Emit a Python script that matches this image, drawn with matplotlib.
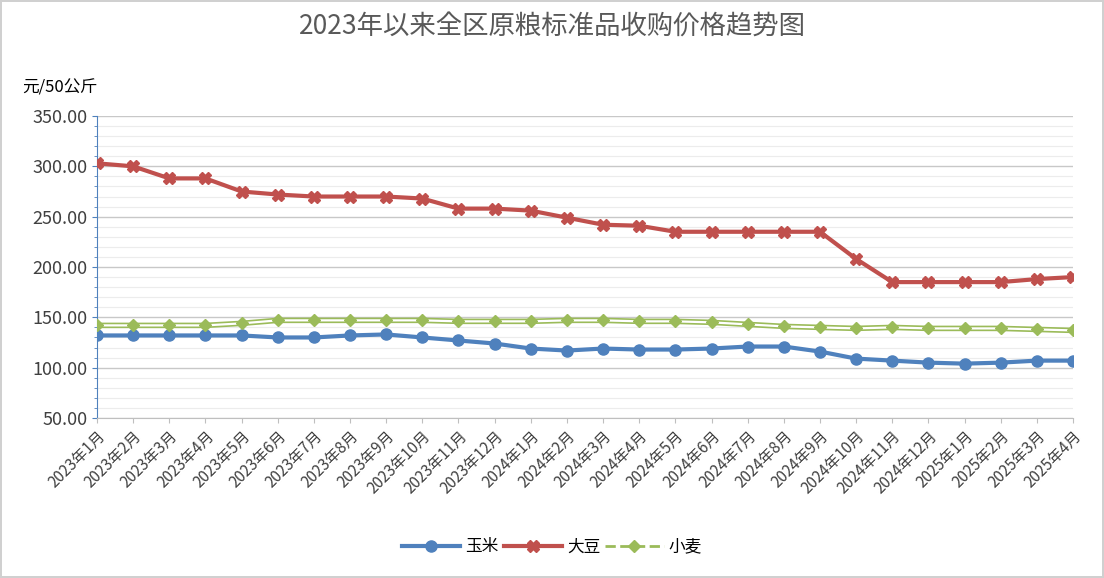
import numpy as np
import matplotlib.pyplot as plt
from matplotlib import font_manager
from matplotlib.ticker import MultipleLocator

# register a CJK font explicitly
cjk = 'DejaVu Sans'
for f in font_manager.findSystemFonts():
    if 'CJK' in f and ('SC' in f or 'Sans' in f):
        try:
            font_manager.fontManager.addfont(f)
            cjk = font_manager.FontProperties(fname=f).get_name()
            break
        except Exception:
            pass
plt.rcParams['font.family'] = [cjk, 'DejaVu Sans']

months = [f"{y}年{m}月" for y, m in
          [(2023, i) for i in range(1, 13)] + [(2024, i) for i in range(1, 13)] + [(2025, i) for i in range(1, 5)]]

corn = [132, 132, 132, 132, 132, 130, 130, 132, 133, 130, 127, 124,
        119, 117, 119, 118, 118, 119, 121, 121, 116, 109, 107, 105,
        104, 105, 107, 107]
soy = [303, 300, 288, 288, 275, 272, 270, 270, 270, 268, 258, 258,
       256, 249, 242, 241, 235, 235, 235, 235, 235, 208, 185, 185,
       185, 185, 188, 190]
wheat = [142, 142, 142, 142, 144, 147, 147, 147, 147, 147, 146, 146,
         146, 147, 147, 146, 146, 145, 143, 141, 140, 139, 140, 139,
         139, 139, 138, 137]

fig = plt.figure(figsize=(11.04, 5.78), dpi=100)
fig.patch.set_edgecolor('#d0d0d0')
fig.patch.set_linewidth(1.5)
ax = fig.add_axes([97/1104, 1-418/578, (1073-97)/1104, (418-116)/578])

x = np.arange(len(months))
ax.plot(x, corn, color='#4f81bd', lw=3, marker='o', ms=8, label='玉米', zorder=4)
ax.plot(x, soy, color='#c0504d', lw=3, marker='X', ms=9, label='大豆', zorder=4)
ax.plot(x, wheat, color='#9bbb59', lw=4, zorder=3)
ax.plot(x, wheat, color='white', lw=1.6, zorder=3)
ax.plot(x, wheat, color='#9bbb59', lw=0, marker='D', ms=6, zorder=4)
ax.plot([], [], color='#9bbb59', lw=2, ls='--', marker='D', ms=6, label='小麦')

ax.set_xlim(0, len(months) - 1)
ax.set_ylim(50, 350)
ax.yaxis.set_major_locator(MultipleLocator(50))
ax.yaxis.set_minor_locator(MultipleLocator(10))
ax.yaxis.set_major_formatter(lambda v, p: f"{v:.2f}")
ax.grid(axis='y', which='major', color='#c8c8c8', lw=1)
ax.grid(axis='y', which='minor', color='#ececec', lw=0.8)
ax.set_axisbelow(True)
ax.set_xticks(x)
ax.set_xticklabels(months, rotation=45, ha='right', rotation_mode='anchor', fontsize=11, color='#404040')
ax.tick_params(axis='y', labelsize=13, colors='#404040', which='both')
ax.tick_params(axis='y', which='both', color='#4f81bd')
ax.tick_params(axis='x', color='#bfbfbf')
for s in ['top', 'right']:
    ax.spines[s].set_visible(False)
ax.spines['left'].set_color('#4f81bd')
ax.spines['bottom'].set_color('#bfbfbf')

fig.text(0.5, 0.94, '2023年以来全区原粮标准品收购价格趋势图', ha='center', fontsize=19, color='#595959')
fig.text(22/1104, 1-88/578, '元/50公斤', fontsize=12, va='center')
fig.legend(loc='center', bbox_to_anchor=(0.5, 1-547/578), ncol=3, frameon=False,
           fontsize=12, handlelength=3.5, columnspacing=0.3, handletextpad=0.3)

fig.savefig('out.png', dpi=100)
